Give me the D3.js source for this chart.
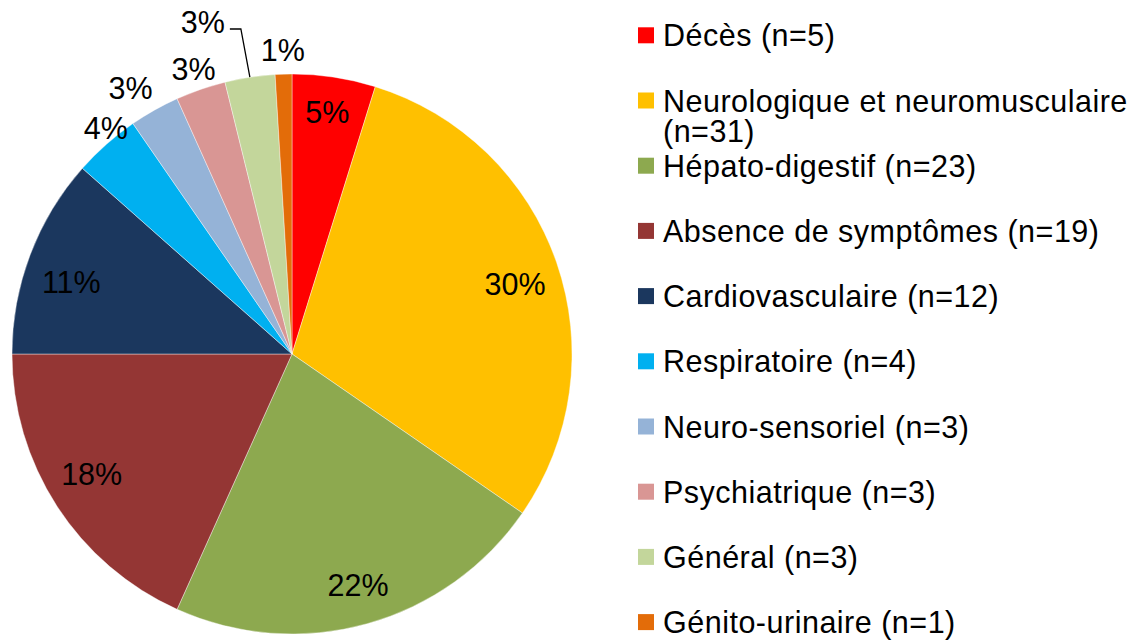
<!DOCTYPE html>
<html>
<head>
<meta charset="utf-8">
<script src="https://cdn.jsdelivr.net/npm/d3@7"></script>
<style>
  body { margin: 0; background: #fff; }
  text { font-family: "Liberation Sans", Arial, sans-serif; fill: #000; }
</style>
</head>
<body>
<div id="viz-container"></div>
<script>
const categories = ["Décès", "Neurologique et neuromusculaire", "Hépato-digestif",
  "Absence de symptômes", "Cardiovasculaire", "Respiratoire", "Neuro-sensoriel",
  "Psychiatrique", "Général", "Génito-urinaire"];
const counts = [5, 31, 23, 19, 12, 4, 3, 3, 3, 1];
const pctLabels = ["5%", "30%", "22%", "18%", "11%", "4%", "3%", "3%", "3%", "1%"];
const colors = ["#FF0000", "#FFC000", "#8DA94F", "#943634", "#1B375E",
  "#00B0F0", "#95B3D7", "#D99694", "#C3D69B", "#E36C09"];

const W = 1141, H = 643;
const cx = 292, cy = 354, R = 280;
const fontSize = 30.5;

// hand nudges for the data labels, like the ones dragged in the original
const nudge = {
  "Décès": [0, -10], "Neurologique et neuromusculaire": [1, 7], "Hépato-digestif": [3, 5],
  "Absence de symptômes": [-3, -8], "Cardiovasculaire": [-1, 11],
  "Respiratoire": [14, 0], "Neuro-sensoriel": [-13, -3], "Génito-urinaire": [0, -2]
};

const viz = d3.select('#viz-container')
  .append('svg')
    .attr("width", W)
    .attr("height", H);

const data = categories.map((c, i) => ({name: c, value: counts[i], pct: pctLabels[i], color: colors[i]}));

const pie = d3.pie().sort(null).value(d => d.value);
const arcs = pie(data);
const arc = d3.arc().innerRadius(0).outerRadius(R);

const g = viz.append('g').attr('transform', `translate(${cx},${cy})`);

g.selectAll('path').data(arcs).enter()
  .append('path')
    .attr('d', arc)
    .attr('fill', d => d.data.color)
    .attr('stroke', '#fff')
    .attr('stroke-width', 0.4);

// slices big enough get the label inside, small ones outside
const inside = d3.arc().innerRadius(235).outerRadius(235);
const outside = d3.arc().innerRadius(302).outerRadius(302);
const total = d3.sum(counts);

arcs.forEach((d) => {
  const big = d.data.value / total > 0.045;
  let [x, y] = big ? inside.centroid(d) : outside.centroid(d);
  if (d.data.name === "Général") {
    // pushed up with a leader line
    const [ax, ay] = d3.arc().innerRadius(R).outerRadius(R).centroid(d);
    const ly = -325;
    g.append('polyline')
      .attr('points', `${ax},${ay} ${ax - 9},${ly} ${ax - 20},${ly}`)
      .attr('fill', 'none')
      .attr('stroke', '#000')
      .attr('stroke-width', 1.3);
    g.append('text')
      .attr('x', ax - 25).attr('y', ly - 7)
      .attr('text-anchor', 'end')
      .attr('dominant-baseline', 'central')
      .attr('font-size', fontSize)
      .text(d.data.pct);
    return;
  }
  const [nx, ny] = nudge[d.data.name] || [0, 0];
  g.append('text')
    .attr('x', x + nx).attr('y', y + ny)
    .attr('text-anchor', 'middle')
    .attr('dominant-baseline', 'central')
    .attr('font-size', fontSize)
    .text(d.data.pct);
});

// legend
const legX = 638, legY0 = 35.3, legStep = 65.2, lineH = 30, maxW = W - 663 - 2;
const leg = viz.append('g');
data.forEach((d, i) => {
  const y = legY0 + i * legStep;
  leg.append('rect')
    .attr('x', legX).attr('y', y - 8)
    .attr('width', 16).attr('height', 16)
    .attr('fill', d.color);
  const t = leg.append('text')
    .attr('x', legX + 25)
    .attr('y', y)
    .attr('dominant-baseline', 'central')
    .attr('letter-spacing', 0.5)
    .attr('font-size', fontSize);
  const words = (d.name + " (n=" + d.value + ")").split(" ");
  let line = [];
  let ts = t.append('tspan').attr('x', legX + 25).attr('y', y);
  words.forEach(w => {
    line.push(w);
    ts.text(line.join(" "));
    if (ts.node().getComputedTextLength() > maxW && line.length > 1) {
      line.pop();
      ts.text(line.join(" "));
      line = [w];
      ts = t.append('tspan').attr('x', legX + 25).attr('y', y + lineH).text(w);
    }
  });
});
</script>
</body>
</html>
